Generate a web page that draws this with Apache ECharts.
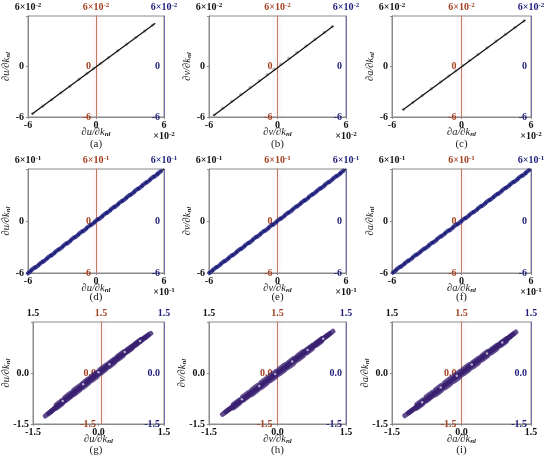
<!DOCTYPE html>
<html><head><meta charset="utf-8">
<script src="https://cdn.jsdelivr.net/npm/echarts@6/dist/echarts.min.js"></script>
<style>html,body{margin:0;padding:0;background:#fff}#c{width:550px;height:466px}</style>
</head><body><div id="c"></div>
<script>
// ---------- data ----------
const panelLetters = ['a','b','c','d','e','f','g','h','i'];
const varNames = ['u','v','a'];
const rowRange = [[-6,6],[-6,6],[-1.5,1.5]];
const rowTickLabels = [['-6','0','6'],['-6','0','6'],['-1.5','0.0','1.5']];
const rowExponent = ['-2','-1',null];

// fitted diagonal lines (endpoints)
const lineA = [[-5.67,-5.68],[5.23,5.13]];
const lineB = [[-5.62,-5.85],[4.89,4.82]];
const lineC = [[-5.08,-5.18],[5.51,5.53]];
const lineD = [[-6,-6],[6,6]];
const lineE = [[-6,-6],[6,6]];
const lineF = [[-6,-6],[6,6]];
const lineG = [[-1.17,-1.23],[1.18,1.15]];
const lineH = [[-1.16,-1.18],[1.17,1.18]];
const lineI = [[-1.18,-1.21],[1.13,1.16]];

// row 1 points (grey)
const ptsA = [[-5.6,-5.62],[-4.7,-4.72],[-3.9,-3.95],[-3.1,-3.12],[-2.3,-2.36],[-1.5,-1.52],[-0.8,-0.84],[-0.2,-0.22],[0.4,0.37],[1.1,1.05],[1.9,1.86],[2.7,2.64],[3.5,3.44],[4.3,4.22],[5.0,4.92]];
const ptsB = [[-5.55,-5.75],[-4.8,-4.95],[-4.0,-4.12],[-3.2,-3.3],[-2.4,-2.5],[-1.6,-1.68],[-0.9,-0.96],[-0.3,-0.32],[0.3,0.28],[1.0,0.97],[1.7,1.66],[2.5,2.45],[3.3,3.24],[4.1,4.04],[4.8,4.74]];
const ptsC = [[-5.0,-5.1],[-4.2,-4.28],[-3.4,-3.46],[-2.6,-2.65],[-1.8,-1.84],[-1.1,-1.14],[-0.5,-0.52],[0.1,0.1],[0.7,0.71],[1.4,1.42],[2.2,2.22],[3.0,3.02],[3.8,3.82],[4.6,4.63],[5.4,5.42]];

// row 2 points (dense navy band)
const ptsD = [[-5.9,-5.92],[-5.55,-5.5],[-5.2,-5.23],[-4.85,-4.82],[-4.5,-4.53],[-4.15,-4.12],[-3.8,-3.83],[-3.45,-3.42],[-3.1,-3.13],[-2.75,-2.72],[-2.4,-2.44],[-2.05,-2.02],[-1.7,-1.73],[-1.35,-1.32],[-1.0,-1.04],[-0.65,-0.62],[-0.3,-0.33],[0.05,0.08],[0.4,0.37],[0.75,0.78],[1.1,1.07],[1.45,1.48],[1.8,1.77],[2.15,2.18],[2.5,2.47],[2.85,2.88],[3.2,3.17],[3.55,3.58],[3.9,3.87],[4.25,4.28],[4.6,4.57],[4.95,4.98],[5.3,5.27],[5.6,5.62]];
const ptsE = [[-5.85,-5.88],[-5.5,-5.47],[-5.15,-5.18],[-4.8,-4.77],[-4.45,-4.48],[-4.1,-4.07],[-3.75,-3.78],[-3.4,-3.37],[-3.05,-3.08],[-2.7,-2.67],[-2.35,-2.39],[-2.0,-1.97],[-1.65,-1.68],[-1.3,-1.27],[-0.95,-0.99],[-0.6,-0.57],[-0.25,-0.28],[0.1,0.13],[0.45,0.42],[0.8,0.83],[1.15,1.12],[1.5,1.53],[1.85,1.82],[2.2,2.23],[2.55,2.52],[2.9,2.93],[3.25,3.22],[3.6,3.63],[3.95,3.92],[4.3,4.33],[4.65,4.62],[5.0,5.03],[5.35,5.32],[5.65,5.68]];
const ptsF = [[-5.8,-5.83],[-5.45,-5.42],[-5.1,-5.13],[-4.75,-4.72],[-4.4,-4.43],[-4.05,-4.02],[-3.7,-3.73],[-3.35,-3.32],[-3.0,-3.03],[-2.65,-2.62],[-2.3,-2.34],[-1.95,-1.92],[-1.6,-1.63],[-1.25,-1.22],[-0.9,-0.94],[-0.55,-0.52],[-0.2,-0.23],[0.15,0.18],[0.5,0.47],[0.85,0.88],[1.2,1.17],[1.55,1.58],[1.9,1.87],[2.25,2.28],[2.6,2.57],[2.95,2.98],[3.3,3.27],[3.65,3.68],[4.0,3.97],[4.35,4.38],[4.7,4.67],[5.05,5.08],[5.4,5.37],[5.7,5.73]];

// row 3 points (elliptical purple band)
const ptsG = [[-1.15,-1.2],[-1.08,-1.12],[-1.0,-1.04],[-0.92,-0.95],[-0.84,-0.87],[-0.76,-0.78],[-0.68,-0.7],[-0.6,-0.62],[-0.52,-0.53],[-0.44,-0.45],[-0.36,-0.37],[-0.28,-0.29],[-0.2,-0.2],[-0.12,-0.12],[-0.04,-0.04],[0.04,0.04],[0.12,0.12],[0.2,0.2],[0.28,0.28],[0.36,0.36],[0.44,0.44],[0.52,0.52],[0.6,0.6],[0.68,0.67],[0.76,0.75],[0.84,0.83],[0.92,0.91],[1.0,0.98],[1.07,1.05],[1.13,1.1],
  [-0.9,-0.87],[-0.7,-0.65],[-0.5,-0.44],[-0.3,-0.24],[-0.1,-0.04],[0.1,0.16],[0.3,0.35],[0.5,0.55],[0.7,0.73],[0.9,0.92],
  [-0.9,-0.97],[-0.7,-0.76],[-0.5,-0.57],[-0.3,-0.37],[-0.1,-0.17],[0.1,0.04],[0.3,0.24],[0.5,0.45],[0.7,0.66],[0.9,0.87]];
const ptsH = [[-1.14,-1.15],[-1.07,-1.08],[-0.99,-1.0],[-0.91,-0.92],[-0.83,-0.84],[-0.75,-0.76],[-0.67,-0.68],[-0.59,-0.6],[-0.51,-0.52],[-0.43,-0.44],[-0.35,-0.35],[-0.27,-0.27],[-0.19,-0.19],[-0.11,-0.11],[-0.03,-0.03],[0.05,0.05],[0.13,0.13],[0.21,0.21],[0.29,0.3],[0.37,0.38],[0.45,0.46],[0.53,0.54],[0.61,0.62],[0.69,0.7],[0.77,0.78],[0.85,0.86],[0.93,0.94],[1.01,1.02],[1.08,1.09],[1.15,1.16],
  [-0.9,-0.86],[-0.7,-0.64],[-0.5,-0.43],[-0.3,-0.22],[-0.1,-0.02],[0.1,0.18],[0.3,0.37],[0.5,0.57],[0.7,0.75],[0.9,0.94],
  [-0.9,-0.96],[-0.7,-0.75],[-0.5,-0.57],[-0.3,-0.37],[-0.1,-0.17],[0.1,0.03],[0.3,0.23],[0.5,0.44],[0.7,0.65],[0.9,0.87]];
const ptsI = [[-1.16,-1.19],[-1.08,-1.11],[-1.0,-1.03],[-0.92,-0.95],[-0.84,-0.86],[-0.76,-0.78],[-0.68,-0.7],[-0.6,-0.61],[-0.52,-0.53],[-0.44,-0.45],[-0.36,-0.36],[-0.28,-0.28],[-0.2,-0.2],[-0.12,-0.12],[-0.04,-0.04],[0.04,0.04],[0.12,0.12],[0.2,0.21],[0.28,0.29],[0.36,0.37],[0.44,0.45],[0.52,0.53],[0.6,0.61],[0.68,0.69],[0.76,0.77],[0.84,0.85],[0.92,0.93],[0.99,1.0],[1.06,1.08],[1.11,1.14],
  [-0.9,-0.86],[-0.7,-0.64],[-0.5,-0.43],[-0.3,-0.22],[-0.1,-0.02],[0.1,0.18],[0.3,0.37],[0.5,0.57],[0.7,0.75],[0.9,0.94],
  [-0.9,-0.97],[-0.7,-0.76],[-0.5,-0.58],[-0.3,-0.38],[-0.1,-0.18],[0.1,0.03],[0.3,0.23],[0.5,0.44],[0.7,0.65],[0.9,0.86]];
// light highlight points inside the row-3 bands
const hiG = [[-0.82,-0.82],[-0.35,-0.33],[0.0,0.02],[0.25,0.26],[0.6,0.62],[0.95,0.94]];
const hiH = [[-0.78,-0.77],[-0.4,-0.38],[-0.05,-0.03],[0.32,0.34],[0.66,0.68],[1.0,1.01]];
const hiI = [[-0.85,-0.86],[-0.45,-0.43],[-0.1,-0.08],[0.22,0.25],[0.55,0.57],[0.88,0.9]];

const panelLines = [lineA,lineB,lineC,lineD,lineE,lineF,lineG,lineH,lineI];
const panelPts = [ptsA,ptsB,ptsC,ptsD,ptsE,ptsF,ptsG,ptsH,ptsI];
const panelHi = [null,null,null,null,null,null,hiG,hiH,hiI];

// ---------- layout / style ----------
const colLeft = [28,209,392], colWidth = [136,137,139];
const rowTop = [16,169,322], rowHeight = [101,104,102];
const captionY = [144,297,450];
const FONT = 'Liberation Serif';
const ptColor = ['#b0b0b0','#1b1b80','#3a2170'];
const ptShape = ['circle','roundRect','roundRect'];
const ptSize = [3.5,[7,4.2],[12,5]];
const redLine = '#c27a5e', redTxt = '#a3401f';
const blueLine = '#7070b0', blueTxt = '#1d1d7a';
const boxColor = '#8a8a8a';

const richBase = {
  n:{fontFamily:FONT,fontWeight:'bold',fontSize:10,lineHeight:11},
  s:{fontFamily:FONT,fontWeight:'bold',fontSize:7,lineHeight:11,verticalAlign:'top',padding:[0,0,4,0]},
  it:{fontFamily:FONT,fontStyle:'italic',fontSize:10.5},
  sub:{fontFamily:FONT,fontStyle:'italic',fontWeight:'bold',fontSize:7,padding:[4,0,0,0]}
};
function rich(color){
  const r = {};
  for (const k in richBase) r[k] = Object.assign({}, richBase[k], {color});
  return r;
}
function topName(row){
  const t = rowTickLabels[row][2];
  return rowExponent[row] ? '{n|' + t + '×10}{s|' + rowExponent[row] + '}' : '{n|' + t + '}';
}
function tickFmt(row, hideMax, withExp){
  const [mn, mx] = rowRange[row];
  return function(v){
    const idx = Math.abs(v - mn) < 1e-9 ? 0 : (Math.abs(v - mx) < 1e-9 ? 2 : 1);
    if (idx === 2 && hideMax) return '';
    const t = rowTickLabels[row][idx];
    if (idx === 2 && withExp && rowExponent[row]) return '{n|' + t + '}\n{n|×10}{s|' + rowExponent[row] + '}';
    return '{n|' + t + '}';
  };
}

const grid = [], xAxis = [], yAxis = [], series = [], graphic = [];
for (let p = 0; p < 9; p++){
  const row = Math.floor(p/3), col = p % 3;
  const [mn, mx] = rowRange[row];
  const itv = mx;
  const w = colWidth[col], h = rowHeight[row];
  const angle = Math.atan2(h, w) * 180 / Math.PI;
  const title = '{it|∂' + varNames[col] + '/∂k}{sub|nl}';
  grid.push({left:colLeft[col], top:rowTop[row], width:w, height:h, show:true, borderColor:boxColor, borderWidth:1, backgroundColor:'transparent'});
  xAxis.push({gridIndex:p, type:'value', min:mn, max:mx, interval:itv, position:'bottom',
    axisLine:{show:true, onZero:false, lineStyle:{color:boxColor,width:1}},
    axisTick:{show:true, length:2, lineStyle:{color:boxColor}}, splitLine:{show:false},
    axisLabel:{margin:3, formatter:tickFmt(row,false,true), rich:rich('#111')},
    name:title, nameLocation:'middle', nameGap:10, nameMoveOverlap:false, nameTextStyle:{rich:rich('#222')}});
  const yb = {gridIndex:p, type:'value', min:mn, max:mx, interval:itv, splitLine:{show:false}};
  // left black axis
  yAxis.push(Object.assign({}, yb, {position:'left',
    axisLine:{show:true, onZero:false, lineStyle:{color:boxColor}}, axisTick:{show:true,length:2,lineStyle:{color:boxColor}},
    axisLabel:{margin:4, formatter:tickFmt(row,true,false), rich:rich('#111')},
    name:topName(row), nameLocation:'end', nameGap:3, nameMoveOverlap:false, nameTextStyle:{rich:rich('#111')}}));
  // title axis
  yAxis.push(Object.assign({}, yb, {position:'left', axisLine:{show:false}, axisTick:{show:false}, axisLabel:{show:false},
    name:title, nameLocation:'middle', nameRotate:90, nameGap:row===2?21:16, nameMoveOverlap:false, nameTextStyle:{rich:rich('#222')}}));
  // red centre axis
  yAxis.push(Object.assign({}, yb, {position:'left', offset:-w/2,
    axisLine:{show:true, onZero:false, lineStyle:{color:redLine,width:1,shadowColor:'rgba(255,120,160,0.55)',shadowBlur:5}},
    axisTick:{show:false},
    axisLabel:{margin:5, formatter:tickFmt(row,true,false), rich:rich(redTxt)},
    name:topName(row), nameLocation:'end', nameGap:3, nameMoveOverlap:false, nameTextStyle:{rich:rich(redTxt)}}));
  // blue right axis
  yAxis.push(Object.assign({}, yb, {position:'right',
    axisLine:{show:true, onZero:false, lineStyle:{color:blueLine,width:1}}, axisTick:{show:false},
    axisLabel:{inside:true, margin:4, formatter:tickFmt(row,true,false), rich:rich(blueTxt)},
    name:topName(row), nameLocation:'end', nameGap:3, nameMoveOverlap:false, nameTextStyle:{rich:rich(blueTxt)}}));

  const yi = p*4;
  series.push({type:'line', xAxisIndex:p, yAxisIndex:yi, data:panelLines[p], symbol:'none', silent:true,
    lineStyle:{color:'#111', width:1.3}, z:row===0?3:1});
  series.push({type:'scatter', xAxisIndex:p, yAxisIndex:yi, data:panelPts[p], symbol:ptShape[row], symbolSize:ptSize[row],
    symbolRotate: row===0 ? 0 : angle, itemStyle:{color:ptColor[row]}, z:2, silent:true});
  if (panelHi[p]) series.push({type:'scatter', xAxisIndex:p, yAxisIndex:yi, data:panelHi[p], symbolSize:2.5,
    itemStyle:{color:'#d8d0e4'}, z:3, silent:true});
  graphic.push({type:'text', x:colLeft[col]+w/2, y:captionY[row],
    style:{text:'(' + panelLetters[p] + ')', font:'11px "Liberation Serif"', fill:'#222', align:'center', verticalAlign:'middle'}});
}

const chart = echarts.init(document.getElementById('c'), null, {renderer:'canvas'});
chart.setOption({animation:false, backgroundColor:'#fff', grid, xAxis, yAxis, series, graphic});
</script></body></html>
